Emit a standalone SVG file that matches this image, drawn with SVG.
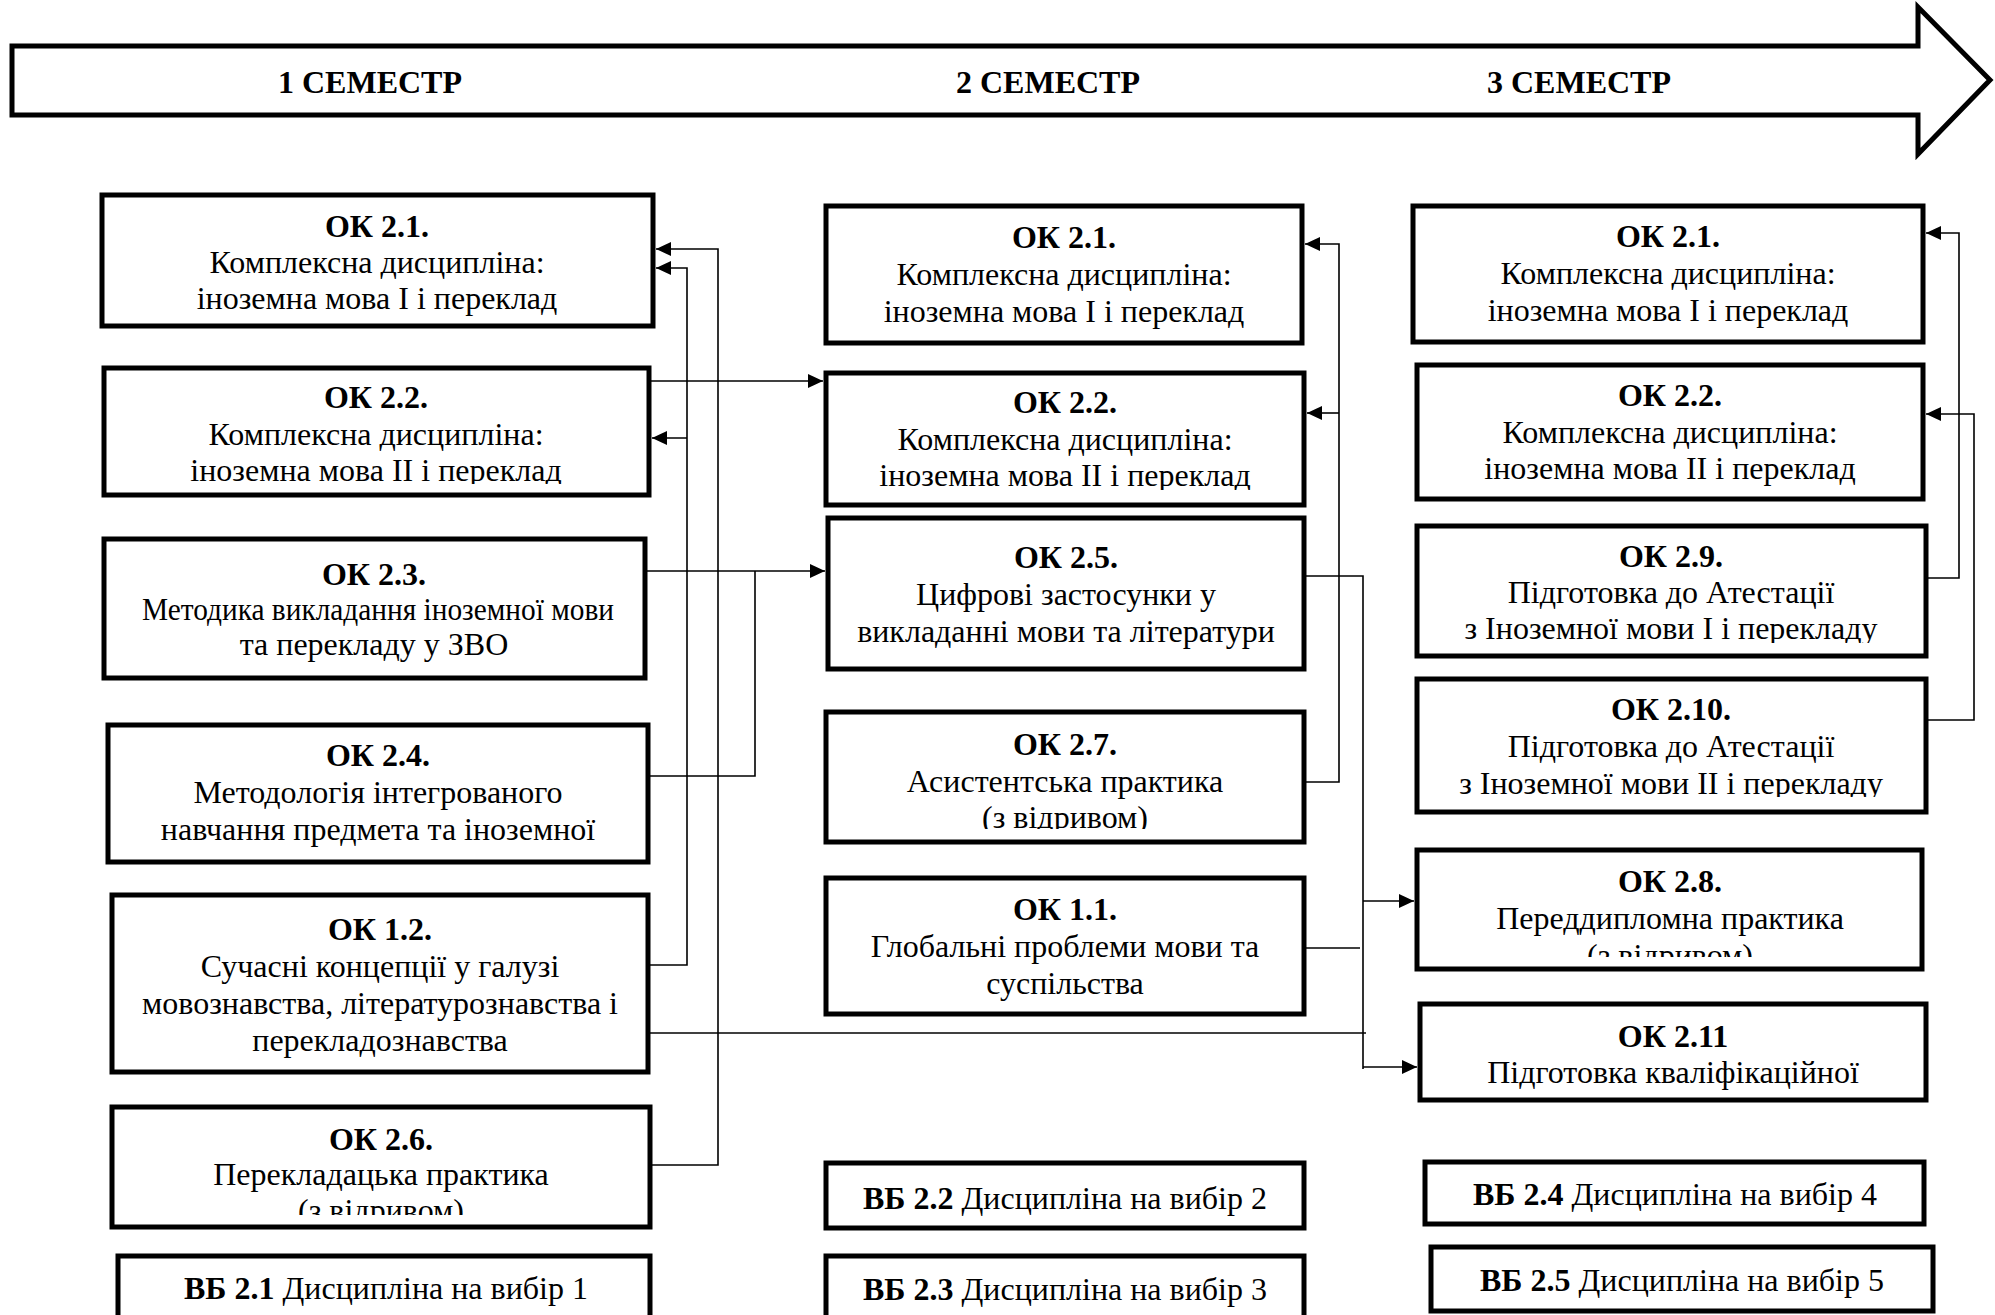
<svg xmlns="http://www.w3.org/2000/svg" width="1995" height="1315" viewBox="0 0 1995 1315">
<style>
.box{fill:#fff;stroke:#000;stroke-width:5}
.t{font-family:"Liberation Serif","Times New Roman",serif;font-size:32px;text-anchor:middle;fill:#000}
.b{font-weight:bold}
.sem{font-family:"Liberation Serif","Times New Roman",serif;font-size:32px;font-weight:bold;text-anchor:middle;fill:#000}
.c{fill:none;stroke:#000;stroke-width:1.6}
.a{marker-end:url(#arr)}
</style>
<defs>
<marker id="arr" markerUnits="userSpaceOnUse" markerWidth="16" markerHeight="14" refX="15" refY="7" orient="auto">
<path d="M0,0 L15,7 L0,14 z" fill="#000"/>
</marker>
<clipPath id="cl1"><rect x="100" y="360" width="560" height="124"/></clipPath>
<clipPath id="cl2"><rect x="100" y="1100" width="560" height="115"/></clipPath>
<clipPath id="cl3"><rect x="820" y="365" width="490" height="125"/></clipPath>
<clipPath id="cl4"><rect x="820" y="705" width="490" height="124"/></clipPath>
<clipPath id="cl5"><rect x="1410" y="520" width="520" height="123"/></clipPath>
<clipPath id="cl6"><rect x="1410" y="672" width="520" height="125"/></clipPath>
<clipPath id="cl7"><rect x="1410" y="843" width="520" height="114"/></clipPath>
</defs>
<rect width="1995" height="1315" fill="#fff"/>

<g id="timeline">
<polygon points="12,46 1918,46 1918,7 1990,80 1918,154 1918,115 12,115" fill="#fff" stroke="#000" stroke-width="5"/>
<text class="sem" x="370" y="93">1 СЕМЕСТР</text>
<text class="sem" x="1048" y="93">2 СЕМЕСТР</text>
<text class="sem" x="1579" y="93">3 СЕМЕСТР</text>
</g>

<!-- Column 1 -->
<g id="c1-ok21">
<rect class="box" x="102" y="195" width="551" height="131"/>
<text class="t b" x="377" y="237">ОК 2.1.</text>
<text class="t" x="377" y="273">Комплексна дисципліна:</text>
<text class="t" x="377" y="309">іноземна мова I і переклад</text>
</g>
<g id="c1-ok22">
<rect class="box" x="104" y="368" width="545" height="127"/>
<g clip-path="url(#cl1)">
<text class="t b" x="376" y="408">ОК 2.2.</text>
<text class="t" x="376" y="445">Комплексна дисципліна:</text>
<text class="t" x="376" y="481">іноземна мова II і переклад</text>
</g>
</g>
<g id="c1-ok23">
<rect class="box" x="104" y="539" width="541" height="139"/>
<text class="t b" x="374" y="585">ОК 2.3.</text>
<text class="t" x="378" y="620" textLength="472" lengthAdjust="spacingAndGlyphs">Методика викладання іноземної мови</text>
<text class="t" x="374" y="655">та перекладу у ЗВО</text>
</g>
<g id="c1-ok24">
<rect class="box" x="108" y="725" width="540" height="137"/>
<text class="t b" x="378" y="766">ОК 2.4.</text>
<text class="t" x="378" y="803">Методологія інтегрованого</text>
<text class="t" x="378" y="840">навчання предмета та іноземної</text>
</g>
<g id="c1-ok12">
<rect class="box" x="112" y="895" width="536" height="177"/>
<text class="t b" x="380" y="940">ОК 1.2.</text>
<text class="t" x="380" y="977">Сучасні концепції у галузі</text>
<text class="t" x="380" y="1014">мовознавства, літературознавства і</text>
<text class="t" x="380" y="1051">перекладознавства</text>
</g>
<g id="c1-ok26">
<rect class="box" x="112" y="1107" width="538" height="120"/>
<g clip-path="url(#cl2)">
<text class="t b" x="381" y="1150">ОК 2.6.</text>
<text class="t" x="381" y="1185">Перекладацька практика</text>
<text class="t" x="381" y="1221">(з відривом)</text>
</g>
</g>
<g id="c1-vb21">
<rect class="box" x="118" y="1256" width="532" height="90"/>
<text class="t" x="386" y="1299"><tspan class="b">ВБ 2.1</tspan> Дисципліна на вибір 1</text>
</g>

<!-- Column 2 -->
<g id="c2-ok21">
<rect class="box" x="826" y="206" width="476" height="137"/>
<text class="t b" x="1064" y="248">ОК 2.1.</text>
<text class="t" x="1064" y="285">Комплексна дисципліна:</text>
<text class="t" x="1064" y="322">іноземна мова I і переклад</text>
</g>
<g id="c2-ok22">
<rect class="box" x="826" y="373" width="478" height="132"/>
<g clip-path="url(#cl3)">
<text class="t b" x="1065" y="413">ОК 2.2.</text>
<text class="t" x="1065" y="450">Комплексна дисципліна:</text>
<text class="t" x="1065" y="486">іноземна мова II і переклад</text>
</g>
</g>
<g id="c2-ok25">
<rect class="box" x="828" y="518" width="476" height="151"/>
<text class="t b" x="1066" y="568">ОК 2.5.</text>
<text class="t" x="1066" y="605">Цифрові застосунки у</text>
<text class="t" x="1066" y="642">викладанні мови та літератури</text>
</g>
<g id="c2-ok27">
<rect class="box" x="826" y="712" width="478" height="130"/>
<g clip-path="url(#cl4)">
<text class="t b" x="1065" y="755">ОК 2.7.</text>
<text class="t" x="1065" y="792">Асистентська практика</text>
<text class="t" x="1065" y="828">(з відривом)</text>
</g>
</g>
<g id="c2-ok11">
<rect class="box" x="826" y="878" width="478" height="136"/>
<text class="t b" x="1065" y="920">ОК 1.1.</text>
<text class="t" x="1065" y="957">Глобальні проблеми мови та</text>
<text class="t" x="1065" y="994">суспільства</text>
</g>
<g id="c2-vb22">
<rect class="box" x="826" y="1163" width="478" height="65"/>
<text class="t" x="1065" y="1209"><tspan class="b">ВБ 2.2</tspan> Дисципліна на вибір 2</text>
</g>
<g id="c2-vb23">
<rect class="box" x="826" y="1256" width="478" height="90"/>
<text class="t" x="1065" y="1300"><tspan class="b">ВБ 2.3</tspan> Дисципліна на вибір 3</text>
</g>

<!-- Column 3 -->
<g id="c3-ok21">
<rect class="box" x="1413" y="206" width="510" height="136"/>
<text class="t b" x="1668" y="247">ОК 2.1.</text>
<text class="t" x="1668" y="284">Комплексна дисципліна:</text>
<text class="t" x="1668" y="321">іноземна мова I і переклад</text>
</g>
<g id="c3-ok22">
<rect class="box" x="1417" y="365" width="506" height="134"/>
<text class="t b" x="1670" y="406">ОК 2.2.</text>
<text class="t" x="1670" y="443">Комплексна дисципліна:</text>
<text class="t" x="1670" y="479">іноземна мова II і переклад</text>
</g>
<g id="c3-ok29">
<rect class="box" x="1417" y="526" width="509" height="130"/>
<g clip-path="url(#cl5)">
<text class="t b" x="1671" y="567">ОК 2.9.</text>
<text class="t" x="1671" y="603">Підготовка до Атестації</text>
<text class="t" x="1671" y="639">з Іноземної мови I і перекладу</text>
</g>
</g>
<g id="c3-ok210">
<rect class="box" x="1417" y="679" width="509" height="133"/>
<g clip-path="url(#cl6)">
<text class="t b" x="1671" y="720">ОК 2.10.</text>
<text class="t" x="1671" y="757">Підготовка до Атестації</text>
<text class="t" x="1671" y="794">з Іноземної мови II і перекладу</text>
</g>
</g>
<g id="c3-ok28">
<rect class="box" x="1417" y="850" width="505" height="119"/>
<g clip-path="url(#cl7)">
<text class="t b" x="1670" y="892">ОК 2.8.</text>
<text class="t" x="1670" y="929">Переддипломна практика</text>
<text class="t" x="1670" y="966">(з відривом)</text>
</g>
</g>
<g id="c3-ok211">
<rect class="box" x="1420" y="1004" width="506" height="96"/>
<text class="t b" x="1673" y="1047">ОК 2.11</text>
<text class="t" x="1673" y="1083">Підготовка кваліфікаційної</text>
</g>
<g id="c3-vb24">
<rect class="box" x="1425" y="1162" width="499" height="62"/>
<text class="t" x="1675" y="1205"><tspan class="b">ВБ 2.4</tspan> Дисципліна на вибір 4</text>
</g>
<g id="c3-vb25">
<rect class="box" x="1431" y="1247" width="502" height="64"/>
<text class="t" x="1682" y="1291"><tspan class="b">ВБ 2.5</tspan> Дисципліна на вибір 5</text>
</g>

<g id="connectors">
<path class="c a" d="M652,1165 H718 V249 H656"/>
<path class="c a" d="M650,965 H687 V268 H656"/>
<path class="c a" d="M687,438 H652"/>
<path class="c a" d="M651,381 H823"/>
<path class="c a" d="M647,571 H825"/>
<path class="c" d="M650,776 H755 V571"/>
<path class="c" d="M1306,576 H1363 V1069"/>
<path class="c a" d="M1363,901 H1414"/>
<path class="c a" d="M1363,1067 H1417"/>
<path class="c" d="M1306,948 H1360"/>
<path class="c" d="M650,1033 H1366"/>
<path class="c a" d="M1306,782 H1339 V244 H1305"/>
<path class="c a" d="M1339,413 H1307"/>
<path class="c a" d="M1928,578 H1959 V233 H1926"/>
<path class="c a" d="M1928,720 H1974 V414 H1926"/>
</g>
</svg>
